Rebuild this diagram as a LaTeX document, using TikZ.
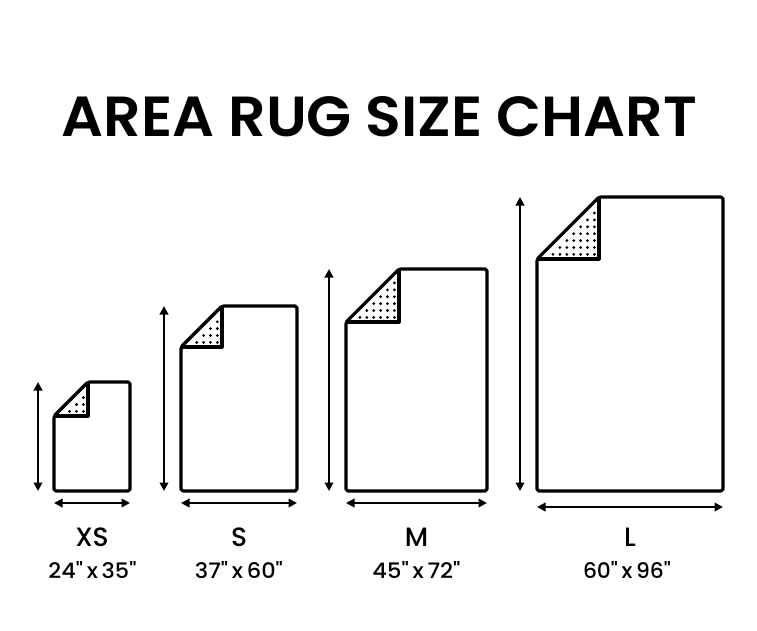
\documentclass[tikz,border=0pt]{standalone}
\usepackage{fontspec}
\usepackage{graphicx}
\usetikzlibrary{arrows.meta}
\newfontfamily\pops{Poppins SemiBold}[Ligatures=TeXOff]
\newfontfamily\popm{Poppins Medium}[Ligatures=TeXOff]
\tikzset{
  rugline/.style={line width=3.2pt, line join=round, rounded corners=1.8pt},
  foldline/.style={line width=3.2pt, line join=round},
  dimarrow/.style={line width=2.2pt, {Triangle[length=8.5pt,width=8.5pt]}-{Triangle[length=8.5pt,width=8.5pt]}},
  sizelbl/.style={inner sep=0pt, font=\popm\fontsize{26.5}{26.5}\selectfont},
  dimlbl/.style={inner sep=0pt}
}
% #1 name, #2 left, #3 top, #4 right, #5 bottom, #6 fold, #7 v-arrow x, #8 h-arrow y
\newcommand\myrug[8]{%
  \draw[rugline] (#2,#3+#6) -- (#2,#5) -- (#4,#5) -- (#4,#3) -- (#2+#6,#3) -- cycle;
  \draw[foldline] (#2,#3+#6) -- (#2+#6,#3+#6) -- (#2+#6,#3);
  \foreach \i in {0,...,9}{
    \foreach \j in {0,...,9}{
      \pgfmathsetmacro\ddx{#6-4.6-\i*6.9}
      \pgfmathsetmacro\ddy{4.6+\j*6.9}
      \pgfmathtruncatemacro\ok{(\ddx-\ddy>5.5)?1:0}
      \ifnum\ok=1 \fill (#2+\ddx,#3+#6-\ddy) circle (1.55pt);\fi
    }
  }
  \coordinate (#1vt) at (#7,#3);
  \coordinate (#1vb) at (#7,#5);
  \coordinate (#1hl) at (#2,#8);
  \coordinate (#1hr) at (#4,#8);
  \draw[dimarrow] (#1vt) -- (#1vb);
  \draw[dimarrow] (#1hl) -- (#1hr);
}
\begin{document}
\begin{tikzpicture}[x=1pt,y=-1pt]
\useasboundingbox (0,0) rectangle (757,630);
\node[inner sep=0pt] (title) at (379.5,117) {\resizebox{635pt}{40pt}{\pops AREA RUG SIZE CHART}};

\myrug{xs}{54}{382}{130}{491}{34}{38}{503}
\myrug{s}{181}{306}{297}{491}{41}{164}{503}
\myrug{m}{346}{269}{487}{491}{53}{329}{503}
\myrug{l}{537}{197}{723}{491}{62}{520}{507}

\node[sizelbl] (xsl) at (92,537.5) {XS};
\node[sizelbl] (sl) at (239,537.5) {S};
\node[sizelbl] (ml) at (416.5,537.5) {M};
\node[sizelbl] (ll) at (630,537.5) {L};

\node[dimlbl] (xsd) at (92.5,570) {\resizebox{88pt}{17pt}{\popm 24"\,x\,35"}};
\node[dimlbl] (sd) at (239,570) {\resizebox{88pt}{17pt}{\popm 37"\,x\,60"}};
\node[dimlbl] (md) at (416.5,570) {\resizebox{88pt}{17pt}{\popm 45"\,x\,72"}};
\node[dimlbl] (ld) at (627,570) {\resizebox{88pt}{17pt}{\popm 60"\,x\,96"}};
\end{tikzpicture}
\end{document}
